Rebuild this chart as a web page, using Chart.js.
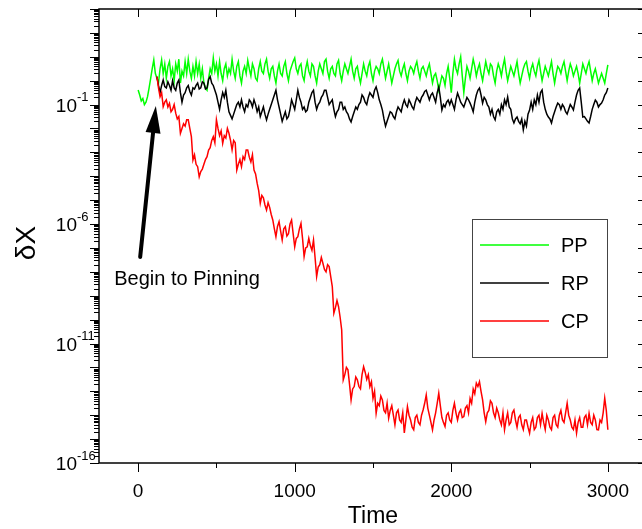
<!DOCTYPE html>
<html>
<head>
<meta charset="utf-8">
<script src="https://cdn.jsdelivr.net/npm/chart.js@4.4.1/dist/chart.umd.min.js"></script>
<style>
  html, body { margin: 0; padding: 0; background: #fff; overflow: hidden; }
  #wrap { width: 660px; height: 529px; }
</style>
</head>
<body>
<div id="wrap"><canvas id="chart" width="660" height="529"></canvas></div>
<script>
// log10 of dX, one value every 10 time units from t = 0 to 3000 (10 per row)
const timeStep = 10;

const ppLog = [
  -0.39, -0.6, -0.85, -0.75, -1.0, -0.9, -0.67, -0.3, 0.1, 0.5,
  0.87, 0.3, 0.1, -0.1, 0.5, 0.87, 0.3, 0.7, 0.1, 0.6,
  0.8, 0.2, 0.5, 0.0, 0.7, 0.4, 0.9, -0.1, 0.4, 0.2,
  0.8, 0.3, 0.9, 0.4, 0.1, 0.6, 0.2, 0.8, 0.3, 0.7,
  0.1, 0.5, -0.1, -0.3, -0.4, 0.1, 0.5, 0.3, 0.95, 0.4,
  0.7, 0.2, 0.8, 0.3, 0.0, 0.5, 0.7, 0.2, 0.5, 0.3,
  0.9, 0.4, 0.1, 0.6, 0.8, 0.2, -0.1, 0.4, 0.6, 0.3,
  0.85, 0.5, 0.2, 0.7, 0.5, 0.1, 0.0, 0.5, 0.8, 0.4,
  0.3, 0.7, 0.9, 0.4, 0.1, 0.5, 0.6, 0.2, -0.1, 0.4,
  0.7, 0.3, 0.2, 0.6, 0.8, 0.3, 0.0, 0.4, 0.6, 0.8,
  0.95, 0.5, 0.3, 0.6, 0.7, 0.2, 0.0, 0.5, 0.8, 0.4,
  0.2, 0.7, 0.6, 0.2, -0.1, 0.4, 0.7, 0.5, 0.3, 0.8,
  0.9, 0.4, 0.1, 0.5, 0.6, 0.3, 0.2, 0.7, 0.85, 0.3,
  0.0, 0.4, 0.7, 0.5, 0.3, 0.6, 0.9, 0.4, 0.1, 0.5,
  0.6, 0.2, -0.1, 0.3, 0.7, 0.4, 0.2, 0.6, 0.8, 0.3,
  0.0, 0.4, 0.6, 0.5, 0.3, 0.7, 0.9, 0.5, 0.1, 0.4,
  0.7, 0.3, -0.1, 0.2, 0.5, 0.7, 0.85, 0.4, 0.2, 0.5,
  0.7, 0.3, 0.0, 0.4, 0.6, 0.5, 0.3, 0.6, 0.8, 0.4,
  0.1, 0.5, 0.6, 0.4, 0.2, 0.5, 0.7, 0.3, -0.1, 0.2,
  0.3, 0.0, -0.4, -0.1, 0.2, 0.1, -0.2, 0.3, 0.6, 0.1,
  -0.5, 0.3, 0.9, 0.5, 0.3, 0.7, 1.0, 0.2, -0.5, 0.1,
  0.6, 0.4, 0.1, 0.5, 0.9, 0.6, 0.2, 0.5, 0.7, 0.3,
  0.0, 0.4, 0.8, 0.5, 0.3, 0.7, 0.6, 0.2, -0.1, 0.4,
  0.7, 0.5, 0.2, 0.6, 0.9, 0.4, 0.0, 0.3, 0.6, 0.4,
  0.2, 0.5, 0.8, 0.3, -0.1, 0.2, 0.5, 0.7, 0.8, 0.4,
  0.1, 0.5, 0.7, 0.4, 0.2, 0.6, 0.85, 0.4, 0.0, 0.3,
  0.6, 0.4, 0.2, 0.5, 0.8, 0.3, -0.1, 0.3, 0.6, 0.5,
  0.3, 0.6, 0.8, 0.4, 0.0, 0.4, 0.7, 0.5, 0.2, 0.4,
  0.6, 0.3, -0.1, 0.3, 0.7, 0.5, 0.3, 0.6, 0.8, 0.4,
  0.0, 0.3, 0.5, 0.2, -0.1, 0.1, 0.3, 0.1, -0.1, 0.3,
  0.66
];

const rpLog = [
  null, null, null, null, null, null, null, null, null, null,
  null, null, 0.17, -0.2, -0.5, -0.2, 0.03, -0.25, -0.3, -0.05,
  -0.2, -0.4, 0.0, -0.3, -0.4, -0.1, 0.03, -0.5, -0.9, -0.6,
  -0.5, -0.3, -0.2, -0.45, -0.6, -0.3, -0.35, -0.2, -0.1, -0.35,
  -0.3, -0.05, -0.1, -0.35, -0.3, 0.05, 0.17, -0.1, -0.2, -0.4,
  -0.6, -0.9, -1.2, -0.8, -0.5, -0.7, -0.4, -0.9, -1.3, -1.45,
  -1.6, -1.4, -1.2, -1.0, -0.9, -1.1, -0.8, -1.1, -1.3, -1.0,
  -1.1, -0.8, -0.9, -1.1, -0.8, -1.0, -1.3, -1.1, -1.5, -1.3,
  -1.1, -1.4, -1.64, -1.4, -1.2, -1.0, -0.8, -0.6, -0.4, -0.8,
  -1.1, -1.4, -1.7, -1.5, -1.3, -1.6, -1.5, -1.2, -0.8, -1.0,
  -1.2, -0.8, -0.4, -0.7, -0.9, -1.2, -1.1, -1.3, -1.23, -0.9,
  -0.7, -0.5, -0.4, -0.9, -1.2, -1.0, -0.9, -0.7, -0.6, -0.4,
  -0.4, -0.7, -1.0, -0.9, -0.8, -1.2, -1.5, -1.3, -1.2, -0.9,
  -0.9, -1.2, -1.1, -1.3, -1.4, -1.6, -1.73, -1.5, -1.3, -1.1,
  -1.2, -1.0, -0.9, -0.6, -0.7, -0.9, -1.0, -0.7, -0.5, -0.6,
  -0.7, -0.4, -0.26, -0.5, -0.8, -1.0, -1.23, -1.6, -1.9, -1.7,
  -1.5, -1.3, -1.35, -1.5, -1.6, -1.3, -1.1, -1.2, -1.3, -1.0,
  -0.8, -1.0, -1.1, -0.8, -0.94, -1.1, -1.2, -0.9, -0.7, -0.8,
  -0.9, -0.7, -0.6, -0.45, -0.4, -0.6, -0.8, -0.6, -0.52, -0.7,
  -0.9, -0.5, -0.26, -0.7, -1.23, -1.0, -1.1, -0.9, -0.81, -1.0,
  -0.8, -1.0, -1.2, -0.8, -0.52, -0.7, -0.9, -1.0, -1.1, -0.9,
  -0.7, -0.8, -0.94, -1.1, -1.3, -0.9, -0.6, -0.4, -0.31, -0.6,
  -0.94, -0.7, -0.8, -1.0, -1.1, -1.4, -1.2, -1.5, -1.64, -1.3,
  -1.2, -1.4, -1.0, -1.2, -0.8, -1.0, -0.68, -1.1, -1.2, -1.6,
  -1.77, -1.6, -1.52, -1.7, -1.8, -1.6, -2.06, -1.7, -1.9, -1.4,
  -1.23, -0.9, -1.2, -0.8, -1.0, -0.6, -0.9, -0.5, -0.39, -0.9,
  -1.2, -1.4, -1.52, -1.6, -1.77, -1.5, -1.3, -1.1, -0.94, -1.0,
  -1.2, -1.0, -1.1, -1.3, -1.4, -1.2, -1.0, -1.1, -1.23, -0.9,
  -0.6, -0.4, -0.31, -0.9, -1.52, -1.5, -1.6, -1.7, -1.77, -1.5,
  -1.2, -1.0, -0.81, -0.9, -1.1, -1.0, -0.94, -0.8, -0.6, -0.5,
  -0.31
];

const cpLog = [
  null, null, null, null, null, null, null, null, null, null,
  null, null, 0.17, -0.3, -0.67, -0.5, -1.09, -0.9, -0.8, -1.1,
  -0.95, -1.3, -1.2, -1.0, -1.36, -1.6, -1.5, -2.2, -2.0, -1.8,
  -1.9, -1.64, -1.64, -2.0, -2.34, -3.32, -3.1, -3.5, -3.6, -4.02,
  -3.8, -3.7, -3.5, -3.3, -3.18, -2.9, -2.8, -2.5, -2.34, -2.6,
  -1.64, -2.0, -2.3, -2.1, -2.62, -2.3, -2.4, -2.0, -2.2, -2.5,
  -2.9, -2.5, -2.6, -3.74, -3.5, -3.3, -3.6, -3.18, -3.3, -2.9,
  -2.9, -3.2, -3.4, -3.1, -3.74, -3.9, -4.29, -4.6, -5.13, -4.8,
  -4.9, -5.2, -5.41, -5.1, -5.3, -5.6, -5.83, -6.2, -6.53, -6.1,
  -5.9, -6.3, -6.67, -6.2, -6.11, -6.5, -6.4, -6.0, -5.83, -6.4,
  -6.95, -6.6, -6.53, -6.2, -5.97, -6.6, -7.36, -7.0, -6.95, -6.6,
  -6.9, -7.1, -6.67, -7.4, -8.2, -7.8, -7.7, -7.4, -7.64, -7.9,
  -8.0, -7.7, -7.78, -8.2, -8.62, -9.73, -9.5, -9.2, -9.46, -9.9,
  -10.43, -12.52, -12.3, -12.0, -12.1, -12.7, -13.36, -12.9, -12.8, -12.4,
  -12.52, -12.8, -12.9, -12.3, -11.97, -12.2, -12.5, -12.3, -12.8, -12.6,
  -13.3, -13.0, -13.92, -13.5, -13.6, -13.2, -13.36, -13.8, -13.9, -13.5,
  -14.13, -13.8, -13.6, -14.0, -14.4, -13.9, -13.78, -14.2, -14.3, -13.9,
  -14.74, -14.2, -13.64, -14.0, -14.2, -14.5, -14.61, -14.1, -14.0, -14.3,
  -14.4, -14.0, -13.78, -13.5, -13.15, -13.7, -14.0, -14.3, -14.61, -14.2,
  -13.9, -13.5, -13.08, -13.6, -14.1, -14.3, -14.47, -14.0, -13.9, -14.2,
  -14.3, -13.8, -13.5, -13.9, -14.2, -13.9, -13.78, -14.1, -14.06, -13.7,
  -13.6, -13.9, -13.3, -13.5, -12.9, -13.1, -12.66, -12.8, -12.6, -13.0,
  -13.36, -13.9, -14.27, -13.9, -13.8, -13.4, -13.5, -13.9, -14.1, -13.7,
  -13.9, -14.2, -14.4, -13.9, -14.61, -14.2, -13.9, -14.4, -14.3, -13.9,
  -13.78, -14.2, -14.5, -14.1, -14.0, -14.4, -14.6, -14.2, -14.2, -14.5,
  -14.75, -14.3, -14.1, -14.6, -14.5, -14.1, -14.0, -14.4, -13.92, -14.3,
  -14.6, -14.0, -14.2, -14.5, -14.61, -14.1, -14.0, -14.4, -14.5, -14.0,
  -13.8, -14.2, -14.3, -13.9, -13.5, -14.0, -14.2, -14.5, -14.6, -14.2,
  -14.75, -14.3, -14.1, -14.5, -14.5, -14.1, -14.0, -14.4, -13.92, -14.3,
  -14.4, -14.0, -14.2, -14.6, -14.61, -14.2, -14.3, -13.9, -13.29, -13.8,
  -14.61
];

const seriesNames = ['PP', 'RP', 'CP'];
const seriesColors = ['#00ff00', '#000000', '#ff0000'];

const xMajorTicks = [0, 1000, 2000, 3000];
const xMinorTicks = [500, 1500, 2500];
const yLabelExps = [-1, -6, -11, -16];

// annotation, in data coordinates (time, log10 dX)
const arrowTail = [13, -7.38];
const arrowTip = [113, -1.06];
const noteText = 'Begin to Pinning';
const notePos = [-153, -8.34];

function toPoints(logs) {
  return logs.map((v, i) => ({ x: i * timeStep, y: v === null ? null : Math.pow(10, v) }));
}

const FONT = '"Liberation Sans", Arial, sans-serif';

// frame, ticks, y labels, legend and the arrow note
const decor = {
  id: 'decor',
  afterDraw(chart) {
    const { ctx, chartArea: a, scales: { x, y } } = chart;
    ctx.save();
    ctx.strokeStyle = '#000';
    ctx.lineWidth = 1.5;
    ctx.strokeRect(a.left, a.top, a.right - a.left, a.bottom - a.top);

    ctx.lineWidth = 1;
    ctx.beginPath();
    for (let e = -16; e <= 3; e++) {
      const py = Math.round(y.getPixelForValue(Math.pow(10, e))) + 0.5;
      ctx.moveTo(a.left - 9, py); ctx.lineTo(a.left, py);
      ctx.moveTo(a.right - 9, py); ctx.lineTo(a.right, py);
      if (e < 3) {
        for (let m = 2; m <= 9; m++) {
          const pm = Math.round(y.getPixelForValue(m * Math.pow(10, e))) + 0.5;
          ctx.moveTo(a.left - 5, pm); ctx.lineTo(a.left, pm);
        }
      }
    }
    xMajorTicks.forEach(v => {
      const px = Math.round(x.getPixelForValue(v)) + 0.5;
      ctx.moveTo(px, a.bottom); ctx.lineTo(px, a.bottom + 9);
      ctx.moveTo(px, a.top); ctx.lineTo(px, a.top + 8);
    });
    xMinorTicks.forEach(v => {
      const px = Math.round(x.getPixelForValue(v)) + 0.5;
      ctx.moveTo(px, a.bottom); ctx.lineTo(px, a.bottom + 5);
      ctx.moveTo(px, a.top); ctx.lineTo(px, a.top + 8);
    });
    ctx.stroke();

    // y tick labels 10^n
    ctx.fillStyle = '#000';
    yLabelExps.forEach(e => {
      const py = y.getPixelForValue(Math.pow(10, e));
      ctx.font = '19px ' + FONT;
      ctx.textAlign = 'right';
      ctx.textBaseline = 'middle';
      ctx.fillText('10', 77, py + 2);
      ctx.font = '13px ' + FONT;
      ctx.textAlign = 'left';
      ctx.fillText('-' + Math.abs(e), 77, py - 7);
    });

    // y title
    ctx.save();
    ctx.translate(27, 243);
    ctx.rotate(-Math.PI / 2);
    ctx.font = '28px ' + FONT;
    ctx.textAlign = 'center';
    ctx.textBaseline = 'middle';
    ctx.fillText('\u03B4X', 0, 0);
    ctx.restore();

    // legend
    ctx.strokeStyle = '#444';
    ctx.lineWidth = 1;
    ctx.strokeRect(472.5, 219.5, 135, 138);
    seriesNames.forEach((name, i) => {
      const ly = 245 + i * 38;
      ctx.strokeStyle = seriesColors[i];
      ctx.lineWidth = 1.5;
      ctx.beginPath();
      ctx.moveTo(480, ly); ctx.lineTo(549, ly);
      ctx.stroke();
      ctx.font = '20px ' + FONT;
      ctx.textAlign = 'left';
      ctx.textBaseline = 'middle';
      ctx.fillStyle = '#000';
      ctx.fillText(name, 561, ly + 1);
    });

    // arrow note
    const tx = x.getPixelForValue(arrowTail[0]), ty = y.getPixelForValue(Math.pow(10, arrowTail[1]));
    const hx = x.getPixelForValue(arrowTip[0]), hy = y.getPixelForValue(Math.pow(10, arrowTip[1]));
    const dx = hx - tx, dy = hy - ty, len = Math.hypot(dx, dy);
    const ux = dx / len, uy = dy / len;
    const headLen = 27, headHalf = 7.5;
    const bx = hx - ux * headLen, by = hy - uy * headLen;
    ctx.strokeStyle = '#000';
    ctx.lineWidth = 4;
    ctx.lineCap = 'round';
    ctx.beginPath();
    ctx.moveTo(tx, ty); ctx.lineTo(bx + ux * 3, by + uy * 3);
    ctx.stroke();
    ctx.fillStyle = '#000';
    ctx.beginPath();
    ctx.moveTo(hx, hy);
    ctx.lineTo(bx - uy * headHalf, by + ux * headHalf);
    ctx.lineTo(bx + uy * headHalf, by - ux * headHalf);
    ctx.closePath();
    ctx.fill();

    ctx.font = '20px ' + FONT;
    ctx.textAlign = 'left';
    ctx.textBaseline = 'middle';
    ctx.fillText(noteText, x.getPixelForValue(notePos[0]), y.getPixelForValue(Math.pow(10, notePos[1])));
    ctx.restore();
  }
};

const ctx = document.getElementById('chart').getContext('2d');
new Chart(ctx, {
  type: 'line',
  data: {
    datasets: [ppLog, rpLog, cpLog].map((logs, i) => ({
      label: seriesNames[i],
      data: toPoints(logs),
      borderColor: seriesColors[i],
      borderWidth: 1.5,
      pointRadius: 0,
      tension: 0,
      spanGaps: false,
      order: 2 - i
    }))
  },
  options: {
    responsive: false,
    animation: false,
    layout: { padding: { top: 9, right: 13, left: 0, bottom: 0 } },
    plugins: { legend: { display: false }, tooltip: { enabled: false } },
    scales: {
      x: {
        type: 'linear',
        min: -250,
        max: 3250,
        grid: { display: false, drawTicks: false },
        border: { display: false },
        afterBuildTicks: s => { s.ticks = xMajorTicks.map(v => ({ value: v })); },
        afterFit: s => { s.height = 66; },
        ticks: {
          color: '#000',
          font: { family: FONT, size: 19 },
          padding: 17,
          maxRotation: 0,
          callback: v => String(v)
        },
        title: {
          display: true,
          text: 'Time',
          color: '#000',
          font: { family: FONT, size: 23, lineHeight: 1 },
          padding: { top: 0, bottom: 1 }
        }
      },
      y: {
        type: 'logarithmic',
        min: 1e-16,
        max: 1e3,
        grid: { display: false, drawTicks: false },
        border: { display: false },
        ticks: { display: false },
        afterFit: s => { s.width = 99; }
      }
    }
  },
  plugins: [decor]
});
</script>
</body>
</html>
